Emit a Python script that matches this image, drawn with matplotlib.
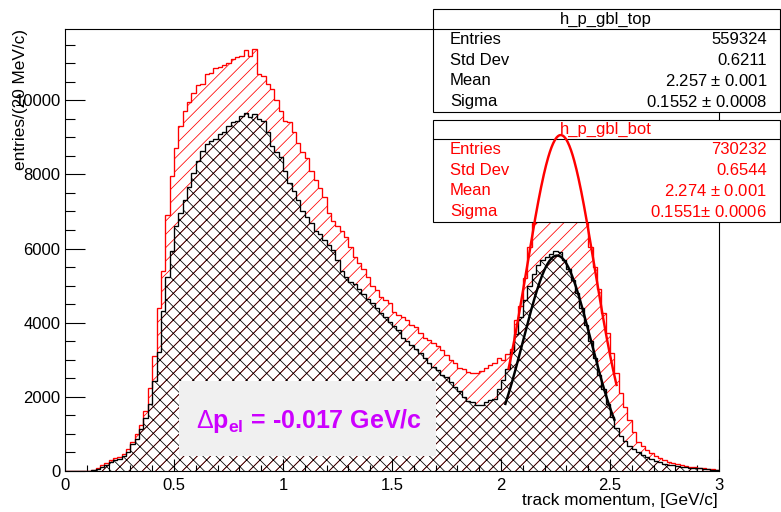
import numpy as np
import matplotlib
matplotlib.use('Agg')
import matplotlib.pyplot as plt
from matplotlib.patches import Rectangle
from matplotlib.ticker import MultipleLocator

plt.rcParams['font.family'] = ['Liberation Sans', 'DejaVu Sans']
plt.rcParams['mathtext.fontset'] = 'custom'
plt.rcParams['mathtext.rm'] = 'Liberation Sans'
plt.rcParams['mathtext.bf'] = 'Liberation Sans:bold'
plt.rcParams['hatch.linewidth'] = 0.7

# bin contents, 20 MeV bins from 0 to 3 GeV/c (first 5 bins empty)
bot_counts = [0, 0, 0, 0, 0,
    10, 40, 90, 150, 220, 290, 340, 380, 460, 580,
    780, 990, 1250, 1620, 2250, 3100, 4400, 5400, 6900, 7950,
    8700, 9300, 9700, 9950, 10200, 10400, 10450, 10700, 10720, 10880,
    10900, 10950, 11000, 11120, 11160, 11180, 11350, 11200, 11380, 10700,
    10640, 10430, 10300, 10000, 9700, 9450, 9400, 9130, 8850, 8600,
    8450, 8080, 7860, 7640, 7400, 6970, 6750, 6600, 6470, 6320,
    6050, 5780, 5600, 5450, 5240, 5000, 4890, 4700, 4600, 4540,
    4300, 4200, 4160, 4070, 3950, 3890, 3720, 3600, 3540, 3450,
    3360, 3250, 3130, 3000, 2920, 2780, 2750, 2680, 2650, 2640,
    2700, 2780, 2850, 2920, 3050, 3000, 3150, 3300, 4080, 4450,
    5200, 6050, 6700, 7300, 7900, 8400, 8750, 8950, 9050, 9000,
    8800, 8450, 8000, 7500, 6800, 6050, 5500, 4900, 4270, 3730,
    3190, 2650, 2110, 1730, 1380, 1050, 780, 680, 570, 480,
    400, 340, 290, 240, 210, 180, 160, 140, 120, 100,
    85, 75, 60, 50, 40]

top_counts = [0, 0, 0, 0, 0,
    5, 30, 60, 110, 170, 230, 290, 330, 400, 500,
    720, 860, 1130, 1440, 1800, 2430, 3200, 4320, 5220, 5940,
    6600, 6950, 7300, 7650, 8050, 8370, 8640, 8820, 8910, 8960,
    9090, 9150, 9300, 9400, 9450, 9580, 9650, 9560, 9620, 9500,
    9450, 9130, 8760, 8600, 8460, 8080, 7780, 7550, 7320, 7000,
    6850, 6700, 6460, 6400, 6240, 6100, 5970, 5700, 5400, 5240,
    5100, 5030, 4900, 4760, 4650, 4540, 4400, 4270, 4150, 4030,
    3900, 3810, 3590, 3500, 3410, 3300, 3190, 3050, 2920, 2800,
    2730, 2600, 2540, 2400, 2270, 2150, 2000, 1900, 1860, 1780,
    1790, 1860, 1920, 1950, 2200, 2450, 2750, 3200, 3700, 4150,
    4600, 5000, 5300, 5550, 5700, 5780, 5850, 5920, 5900, 5700,
    5450, 5150, 4800, 4400, 3950, 3500, 3050, 2600, 2200, 1800,
    1450, 1150, 950, 800, 680, 580, 500, 440, 380, 330,
    280, 240, 200, 175, 150, 130, 115, 100, 90, 80,
    70, 60, 50, 40, 30]

# gaussian fit results (amplitude, mean/sigma from stat boxes)
top_fit = (5810, 2.257, 0.1552)
bot_fit = (9060, 2.274, 0.1551)
top_range = (2.02, 2.52)
bot_range = (2.035, 2.53)

top_stats = [('Entries', '559324'), ('Std Dev', '0.6211'),
             ('Mean', '2.257 $\\pm$ 0.001'), ('Sigma', '0.1552 $\\pm$ 0.0008')]
bot_stats = [('Entries', '730232'), ('Std Dev', '0.6544'),
             ('Mean', '2.274 $\\pm$ 0.001'), ('Sigma', '0.1551$\\pm$ 0.0006')]

W, H, DPI = 781, 512, 80
fig = plt.figure(figsize=(W / DPI, H / DPI), dpi=DPI)

def fx(x):
    return x / W

def fy(y):
    return 1 - y / H

ax = fig.add_axes([fx(65), fy(471), fx(719) - fx(65), fy(29) - fy(471)])
edges = np.linspace(0, 3, 151)

ax.stairs(bot_counts, edges, fill=True, facecolor='none', edgecolor='red',
          hatch='//', linewidth=0, zorder=1)
ax.stairs(bot_counts, edges, color='red', linewidth=1.2, zorder=2)
ax.stairs(top_counts, edges, fill=True, facecolor='none', edgecolor='black',
          hatch='xx', linewidth=0, zorder=3)
ax.stairs(top_counts, edges, color='black', linewidth=1.2, zorder=4)

def gaus(x, p):
    return p[0] * np.exp(-0.5 * ((x - p[1]) / p[2]) ** 2)

xt = np.linspace(top_range[0], top_range[1], 200)
ax.plot(xt, gaus(xt, top_fit), color='black', lw=2.2, zorder=5)
xb = np.linspace(bot_range[0], bot_range[1], 200)
ax.plot(xb, gaus(xb, bot_fit), color='red', lw=2.2, zorder=8, clip_on=False)

ax.set_xlim(0, 3)
ax.set_ylim(0, 11920)
ax.xaxis.set_major_locator(MultipleLocator(0.5))
ax.xaxis.set_minor_locator(MultipleLocator(0.1))
ax.yaxis.set_major_locator(MultipleLocator(2000))
ax.yaxis.set_minor_locator(MultipleLocator(500))
ax.tick_params(axis='both', which='both', direction='in', top=False, right=False,
               labelsize=15, width=1)
ax.tick_params(axis='y', which='major', length=18, pad=4)
ax.tick_params(axis='y', which='minor', length=9)
ax.tick_params(axis='x', which='major', length=11, pad=6)
ax.tick_params(axis='x', which='minor', length=5.5)
ax.xaxis.set_major_formatter(plt.FuncFormatter(lambda v, _: ('%g' % v)))
for s in ax.spines.values():
    s.set_linewidth(1)

fig.text(fx(718), fy(501), 'track momentum, [GeV/c]', ha='right', va='center',
         fontsize=15.5)
fig.text(fx(21), fy(29), 'entries/(20 MeV/c)', rotation=90, ha='center', va='top',
         fontsize=15.5)

# delta p label
ax.add_patch(Rectangle((fx(179), fy(456)), fx(436) - fx(179), fy(381) - fy(456),
                       transform=fig.transFigure, facecolor='#f0f0f0',
                       edgecolor='none', zorder=6, clip_on=False))
ax.text(fx(309), fy(421), r'$\Delta\mathbf{p_{el}}$ = -0.017 GeV/c',
        transform=fig.transFigure, ha='center', va='center', fontsize=22.5,
        fontweight='bold', color='#cc00ff', zorder=7)

def stat_box(y0, y1, ydiv, title, rows, color):
    ax.add_patch(Rectangle((fx(433), fy(y1)), fx(780) - fx(433), fy(y0) - fy(y1),
                           transform=fig.transFigure, facecolor='white',
                           edgecolor='black', lw=1, zorder=6, clip_on=False))
    ax.add_artist(plt.Line2D([fx(433), fx(780)], [fy(ydiv), fy(ydiv)],
                             transform=fig.transFigure, color='black', lw=1,
                             zorder=6, clip_on=False))
    ax.text(fx(606), fy((y0 + ydiv) / 2), title, transform=fig.transFigure,
            ha='center', va='center', fontsize=15, color=color, zorder=7)
    step = (y1 - ydiv) / len(rows)
    for i, (name, val) in enumerate(rows):
        yc = ydiv + step * (i + 0.5)
        ax.text(fx(450), fy(yc), name, transform=fig.transFigure, ha='left',
                va='center', fontsize=15, color=color, zorder=7)
        ax.text(fx(767), fy(yc), val, transform=fig.transFigure, ha='right',
                va='center', fontsize=15, color=color, zorder=7)

stat_box(9, 112, 29, 'h_p_gbl_top', top_stats, 'black')
stat_box(120, 222, 139, 'h_p_gbl_bot', bot_stats, 'red')

fig.savefig('out.png', dpi=DPI)
